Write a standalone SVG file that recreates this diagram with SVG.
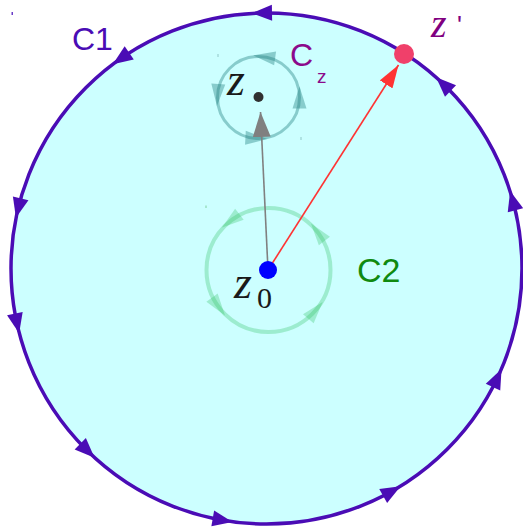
<svg xmlns="http://www.w3.org/2000/svg" xmlns:xlink="http://www.w3.org/1999/xlink" width="523" height="531" viewBox="0 0 523 531">
<style>
.c1 { fill: #ccffff; stroke: #4a0cb5; stroke-width: 3.5; }
.ah1 { fill: #4a0cb5; }
.cz { fill: none; stroke: #208080; stroke-opacity: 0.4; stroke-width: 3; }
.ahz { fill: #208080; fill-opacity: 0.4; }
.c2 { fill: none; stroke: #30c060; stroke-opacity: 0.3; stroke-width: 4; }
.ah2 { fill: #30c060; fill-opacity: 0.3; }
.sans { font-family: "Liberation Sans", Arial, sans-serif; }
.math { font-family: "Liberation Serif", "Times New Roman", serif; font-style: italic; }
.num { font-family: "Liberation Serif", "Times New Roman", serif; }
</style>
<defs>
<path id="ahBig" d="M10,0 L-10,-8 L-10,8 Z"/>
<path id="ahSmall" d="M11,0 L-11,-7 L-11,7 Z"/>
<marker id="mGray" viewBox="0 0 25 18" refX="25" refY="9" markerWidth="25" markerHeight="18" markerUnits="userSpaceOnUse" orient="auto">
<path d="M0,0 L25,9 L0,18 Z" fill="#808080"/>
</marker>
<marker id="mRed" viewBox="0 0 23 15" refX="23" refY="7.5" markerWidth="23" markerHeight="15" markerUnits="userSpaceOnUse" orient="auto">
<path d="M0,0 L23,7.5 L0,15 Z" fill="#ff3333"/>
</marker>
</defs>

<g id="C1">
<circle class="c1" cx="266.5" cy="268.5" r="255.5"/>
<g class="ah1">
<use xlink:href="#ahBig" transform="translate(262,13) rotate(-181)"/>
<use xlink:href="#ahBig" transform="translate(121,58.5) rotate(-214.7)"/>
<use xlink:href="#ahBig" transform="translate(18.3,208) rotate(-256.3)"/>
<use xlink:href="#ahBig" transform="translate(17,323.4) rotate(77.6)"/>
<use xlink:href="#ahBig" transform="translate(87.4,450.7) rotate(44.5)"/>
<use xlink:href="#ahBig" transform="translate(222.6,520.2) rotate(9.9)"/>
<use xlink:href="#ahBig" transform="translate(391.9,491.1) rotate(-29.4)"/>
<use xlink:href="#ahBig" transform="translate(497.3,378.1) rotate(-64.6)"/>
<use xlink:href="#ahBig" transform="translate(512.8,200.6) rotate(-105.4)"/>
<use xlink:href="#ahBig" transform="translate(443.3,84.1) rotate(-136.2)"/>
</g>
<text class="sans" x="72" y="50" font-size="32" fill="#4a0cb5">C1</text>
<rect x="11.5" y="12" width="1.5" height="3" fill="#6a3cc8"/>
</g>

<g id="C2">
<circle class="c2" cx="268.5" cy="270" r="62"/>
<g class="ah2">
<use xlink:href="#ahSmall" transform="translate(230.7,220.9) rotate(-217.6)"/>
<use xlink:href="#ahSmall" transform="translate(317.7,232.3) rotate(-127.5)"/>
<use xlink:href="#ahSmall" transform="translate(218.5,306.6) rotate(53.8)"/>
<use xlink:href="#ahSmall" transform="translate(315.5,310.4) rotate(-49.3)"/>
</g>
<text class="sans" x="357" y="282" font-size="34" fill="#108a10">C2</text>
<rect x="205.5" y="205.5" width="1" height="2.5" fill="#80d0a0"/>
</g>

<g id="Cz">
<circle class="cz" cx="258.5" cy="97.5" r="41"/>
<g class="ahz">
<use xlink:href="#ahSmall" transform="translate(264.2,56.9) rotate(-172)"/>
<use xlink:href="#ahSmall" transform="translate(217.6,95) rotate(93.5)"/>
<use xlink:href="#ahSmall" transform="translate(299.5,97.5) rotate(-90)"/>
<use xlink:href="#ahSmall" transform="translate(256.4,138.4) rotate(3)"/>
</g>
<text class="sans" x="290" y="66" font-size="32" fill="#8b0a8b">C<tspan x="317" y="83" font-size="19">z</tspan></text>
<rect x="217.5" y="54" width="1" height="3" fill="#90c8c8"/>
<rect x="300.5" y="137" width="1" height="3" fill="#90c8c8"/>
</g>

<g id="connectors">
<line x1="268" y1="270" x2="260.5" y2="112" stroke="#808080" stroke-width="1.6" marker-end="url(#mGray)"/>
<line x1="268" y1="270" x2="398.5" y2="65" stroke="#ff3333" stroke-width="1.6" marker-end="url(#mRed)"/>
</g>

<g id="z">
<circle cx="258.5" cy="97" r="5" fill="#303030"/>
<text class="math" x="227" y="95" font-size="46" fill="#1a1a1a">z</text>
</g>

<g id="z0">
<circle cx="268" cy="270" r="9" fill="#0000ff"/>
<text class="math" x="234" y="298" font-size="46" fill="#1a1a1a">z</text>
<text class="num" x="257" y="308" font-size="30" fill="#1a1a1a">0</text>
</g>

<g id="zprime">
<circle cx="404" cy="54" r="10" fill="#f0406a"/>
<text class="math" x="431" y="37" font-size="40" fill="#800080">z</text>
<text class="sans" x="457" y="34" font-size="26" fill="#800080">'</text>
</g>
</svg>
